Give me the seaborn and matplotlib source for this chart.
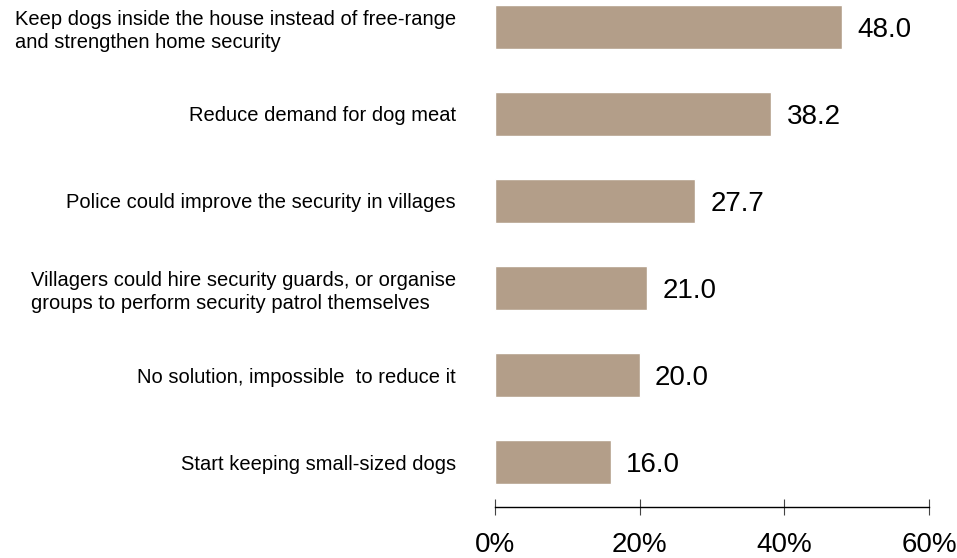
import matplotlib
matplotlib.use("Agg")
import matplotlib.pyplot as plt
import seaborn as sns
import pandas as pd

categories = [
    "Keep dogs inside the house instead of free-range\nand strengthen home security",
    "Reduce demand for dog meat",
    "Police could improve the security in villages",
    "Villagers could hire security guards, or organise\ngroups to perform security patrol themselves",
    "No solution, impossible  to reduce it",
    "Start keeping small-sized dogs",
]
values = [48.0, 38.2, 27.7, 21.0, 20.0, 16.0]
x_ticks = [0, 20, 40, 60]
x_tick_labels = ["0%", "20%", "40%", "60%"]

sns.set_theme(style="white")
plt.rcParams["font.family"] = ["Liberation Sans", "DejaVu Sans"]

df = pd.DataFrame({"measure": categories, "pct": values})

fig = plt.figure(figsize=(9.57, 5.58), dpi=100)
ax = fig.add_axes([495 / 957, 51 / 558, 434 / 957, 507 / 558])

sns.barplot(data=df, y="measure", x="pct", orient="h", order=categories,
            color="#b39e89", saturation=1, width=0.506, ax=ax)

ax.set_xlim(0, 60)
ax.set_ylim(5.517, -0.31)
ax.set_xlabel("")
ax.set_ylabel("")

for i, v in enumerate(values):
    ax.annotate(f"{v:.1f}", xy=(v, i), xytext=(11, -2), textcoords="offset points",
                ha="left", va="center", fontsize=20, color="black")

ax.set_xticks(x_ticks)
ax.set_xticklabels(x_tick_labels, fontsize=20, color="black")
ax.tick_params(axis="x", direction="inout", length=12, width=0.8, color="#444444",
               pad=12, bottom=True)
ax.tick_params(axis="y", left=False, pad=22)
for lab in ax.get_yticklabels():
    lab.set_fontsize(14.5)
    lab.set_multialignment("left")
    lab.set_linespacing(1.3)
    lab.set_color("black")

for side in ["top", "right", "left"]:
    ax.spines[side].set_visible(False)
ax.spines["bottom"].set_color("black")
ax.spines["bottom"].set_linewidth(1.0)

fig.savefig("out.png", dpi=100)
